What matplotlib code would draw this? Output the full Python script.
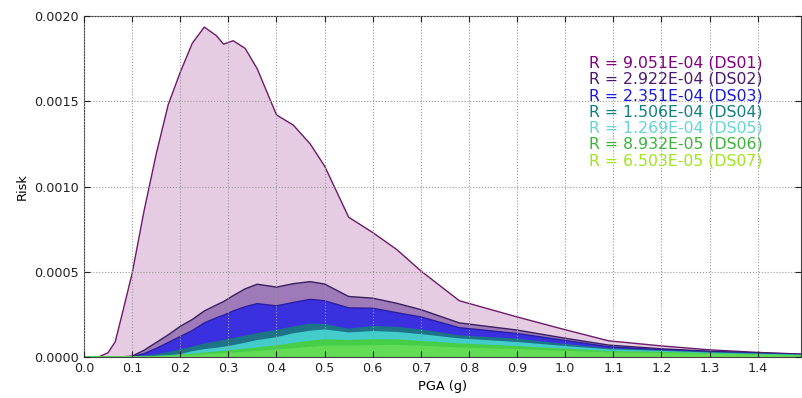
import numpy as np
import matplotlib
matplotlib.use('Agg')
import matplotlib.pyplot as plt
from matplotlib.ticker import FormatStrFormatter

# PGA (g) sample points
pga = [0.0, 0.03, 0.05, 0.065, 0.08, 0.1, 0.125, 0.15, 0.175, 0.2, 0.225, 0.25,
       0.275, 0.29, 0.31, 0.335, 0.36, 0.4, 0.435, 0.47, 0.5, 0.55, 0.6, 0.65,
       0.7, 0.78, 0.9, 1.0, 1.09, 1.2, 1.3, 1.4, 1.49]

# risk curves, in units of 1e-4
ds01 = [0, 0.0, 0.25, 0.9, 2.6, 4.9, 8.6, 11.9, 14.8, 16.7, 18.4, 19.35,
        18.85, 18.35, 18.55, 18.1, 16.9, 14.2, 13.6, 12.5, 11.2, 8.2, 7.3, 6.3,
        5.05, 3.3, 2.35, 1.6, 0.95, 0.65, 0.42, 0.27, 0.17]
ds02 = [0, 0, 0, 0, 0.01, 0.05, 0.4, 0.85, 1.3, 1.8, 2.2, 2.7,
        3.05, 3.25, 3.6, 4.0, 4.27, 4.1, 4.3, 4.42, 4.28, 3.55, 3.45, 3.15,
        2.78, 2.0, 1.58, 1.1, 0.7, 0.48, 0.34, 0.24, 0.16]
ds03 = [0, 0, 0, 0, 0, 0.02, 0.2, 0.5, 0.85, 1.2, 1.55, 2.0,
        2.3, 2.45, 2.7, 2.95, 3.13, 3.0, 3.2, 3.38, 3.3, 2.88, 2.86, 2.6,
        2.35, 1.72, 1.38, 0.97, 0.6, 0.43, 0.31, 0.22, 0.14]
ds04 = [0, 0, 0, 0, 0, 0, 0.05, 0.12, 0.25, 0.4, 0.57, 0.75,
        0.88, 0.97, 1.07, 1.22, 1.36, 1.55, 1.75, 1.92, 1.9, 1.62, 1.78, 1.73,
        1.58, 1.23, 1.04, 0.72, 0.47, 0.36, 0.26, 0.18, 0.11]
ds05 = [0, 0, 0, 0, 0, 0, 0, 0.03, 0.07, 0.12, 0.3, 0.42,
        0.5, 0.56, 0.65, 0.8, 0.95, 1.12, 1.35, 1.5, 1.58, 1.4, 1.48, 1.43,
        1.3, 1.05, 0.84, 0.6, 0.41, 0.32, 0.22, 0.15, 0.09]
ds06 = [0, 0, 0, 0, 0, 0, 0, 0.02, 0.05, 0.1, 0.15, 0.22,
        0.28, 0.32, 0.38, 0.45, 0.52, 0.65, 0.78, 0.92, 1.0, 0.96, 1.0, 1.0,
        0.9, 0.76, 0.6, 0.45, 0.31, 0.26, 0.18, 0.12, 0.07]
ds07 = [0, 0, 0, 0, 0, 0, 0, 0, 0.02, 0.05, 0.08, 0.12,
        0.16, 0.19, 0.22, 0.27, 0.32, 0.4, 0.48, 0.56, 0.62, 0.62, 0.66, 0.67,
        0.62, 0.52, 0.42, 0.32, 0.23, 0.19, 0.13, 0.09, 0.05]

series = [ds01, ds02, ds03, ds04, ds05, ds06, ds07]
names = ['DS01', 'DS02', 'DS03', 'DS04', 'DS05', 'DS06', 'DS07']
r_values = ['9.051E-04', '2.922E-04', '2.351E-04', '1.506E-04',
            '1.269E-04', '8.932E-05', '6.503E-05']

fill_colors = ['#e6cce3', '#9e7ab8', '#3b30e0', '#1d7388', '#44cccc', '#46cf46', '#62dc55']
line_colors = ['#6d1a6a', '#3a1f5f', '#2a1fa0', '#1d7388', '#44cccc', '#46cf46', '#62dc55']
text_colors = ['#800080', '#4b1a6e', '#1a1adc', '#138080', '#66d4d4', '#3cb43c', '#9ee61e']

fig = plt.figure(figsize=(8.02, 3.98), dpi=100)
ax = fig.add_axes([84/802, 41/398, 717/802, 341/398])

x = np.array(pga)
for ys, fc, lc in zip(series, fill_colors, line_colors):
    y = np.array(ys) * 1e-4
    ax.fill_between(x, 0, y, facecolor=fc, edgecolor='none')
    ax.plot(x, y, color=lc, lw=1.0)

ax.set_xlim(0, 1.49)
ax.set_ylim(0, 0.002)
ax.set_xticks(np.arange(0, 1.45, 0.1))
ax.set_yticks([0, 0.0005, 0.001, 0.0015, 0.002])
ax.yaxis.set_major_formatter(FormatStrFormatter('%.4f'))
ax.xaxis.set_major_formatter(FormatStrFormatter('%.1f'))
ax.tick_params(direction='in', top=True, right=True, labelsize=9.2, length=4, colors='#222222')
ax.set_axisbelow(False)
ax.grid(True, linestyle=':', color='#999999', lw=0.8)
for s in ax.spines.values():
    s.set_color('#444444')

ax.set_xlabel('PGA (g)', fontsize=9.3)
ax.set_ylabel('Risk', fontsize=9.3)

for i, (nm, rv, tc) in enumerate(zip(names, r_values, text_colors)):
    ax.text(0.704, 0.862 - i * 0.0477, 'R = %s (%s)' % (rv, nm), color=tc,
            fontsize=11.3, transform=ax.transAxes, va='center', ha='left')

plt.savefig('out.png', dpi=100)
